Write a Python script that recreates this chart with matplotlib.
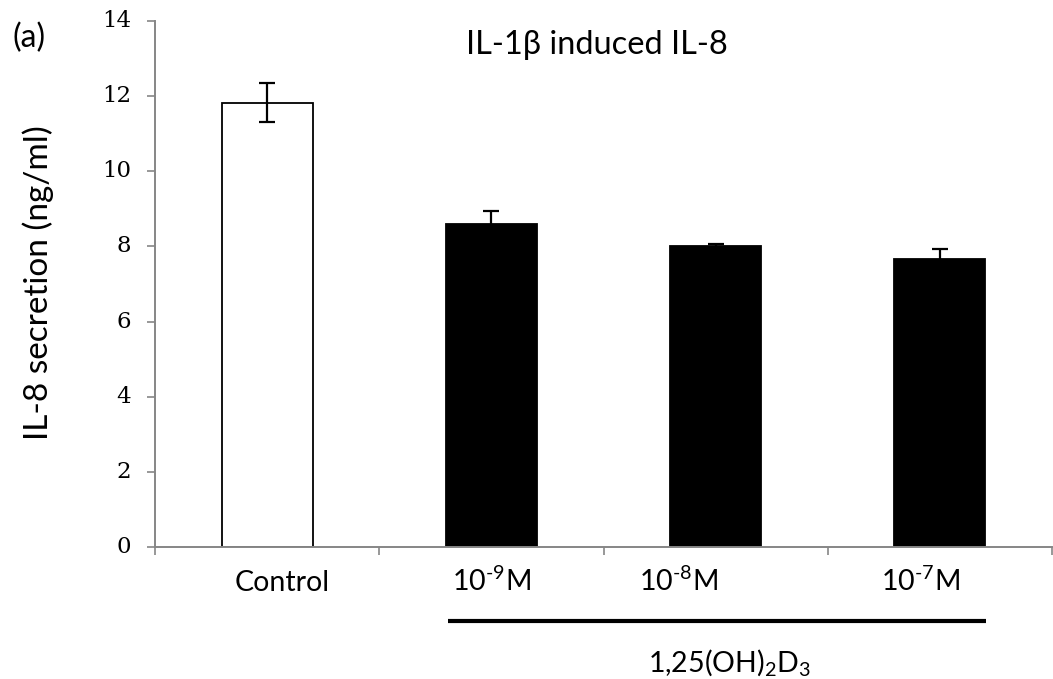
import matplotlib
matplotlib.use("Agg")
import matplotlib.pyplot as plt
import numpy as np

plt.rcParams["mathtext.fontset"] = "custom"
plt.rcParams["mathtext.rm"] = "Lato"
plt.rcParams["mathtext.it"] = "Lato:italic"
plt.rcParams["mathtext.bf"] = "Lato:bold"
plt.rcParams["mathtext.default"] = "regular"

# IL-8 secretion after IL-1beta stimulation
categories = ["Control", "10$^{\u20109}$M", "10$^{\u20108}$M", "10$^{\u20107}$M"]
means = [11.83, 8.59, 8.00, 7.66]
errors = [0.53, 0.35, 0.07, 0.28]
fill_colors = ["white", "black", "black", "black"]
yticks = [0, 2, 4, 6, 8, 10, 12, 14]

label_shift = [0.067, 0.0, -0.165, -0.085]   # manual nudges of the category captions

sans = ["Lato", "DejaVu Sans"]
grey = "#868686"

fig = plt.figure(figsize=(10.53, 6.79), dpi=100)
ax = fig.add_axes([155 / 1053, 1 - 547 / 679, (1052 - 155) / 1053, (547 - 21) / 679])

x = np.arange(len(categories))
ax.bar(x, means, width=0.405, color=fill_colors, edgecolor="black",
       linewidth=1.3, zorder=2)
ax.errorbar(x, means, yerr=errors, fmt="none", ecolor="black",
            elinewidth=1.6, capsize=5.5, capthick=1.6, zorder=3)

ax.set_xlim(-0.5, len(categories) - 0.5)
ax.set_ylim(0, 14)
ax.set_yticks(yticks)
ax.set_yticklabels([])
ax.set_xticks(np.arange(-0.5, len(categories), 1.0))
ax.set_xticklabels([])
ax.tick_params(axis="x", direction="out", length=6, width=1.2, color=grey)
ax.tick_params(axis="y", direction="out", length=6, width=1.2, color=grey)

# serif value labels along the y axis
ytrans = ax.get_yaxis_transform()
for v in yticks:
    ax.text(-0.0268, v, str(v), transform=ytrans, ha="right", va="center",
            fontsize=16.5, family="DejaVu Serif")

for side in ("top", "right"):
    ax.spines[side].set_visible(False)
for side in ("left", "bottom"):
    ax.spines[side].set_color(grey)
    ax.spines[side].set_linewidth(1.4)

trans = ax.get_xaxis_transform()
for xi, lab, dx in zip(x, categories, label_shift):
    ax.text(xi + dx, -0.0837, lab, transform=trans, ha="center", va="baseline",
            fontsize=20.5, family=sans)

# treatment bracket under the vitamin D groups
ax.plot([0.807, 3.206], [-0.1407, -0.1407], transform=trans, color="black",
        linewidth=3, clip_on=False, solid_capstyle="butt")
ax.text(2.06, -0.2376, "1,25(OH)$_2$D$_3$", transform=trans, ha="center",
        va="baseline", fontsize=20.5, family=sans)

ax.set_ylabel("IL-8 secretion (ng/ml)", fontsize=24, family=sans)
ax.yaxis.label.set_verticalalignment("center")
ax.yaxis.set_label_coords(38 / 1053, 1 - 283 / 679, transform=fig.transFigure)

fig.text(597 / 1053, 1 - 45 / 679, "IL-1\u03b2 induced IL-8", fontsize=23.5,
         family=sans, ha="center", va="center")
fig.text(29 / 1053, 1 - 38 / 679, "(a)", fontsize=23, family=sans,
         ha="center", va="center")

fig.savefig("out.png", dpi=100)
